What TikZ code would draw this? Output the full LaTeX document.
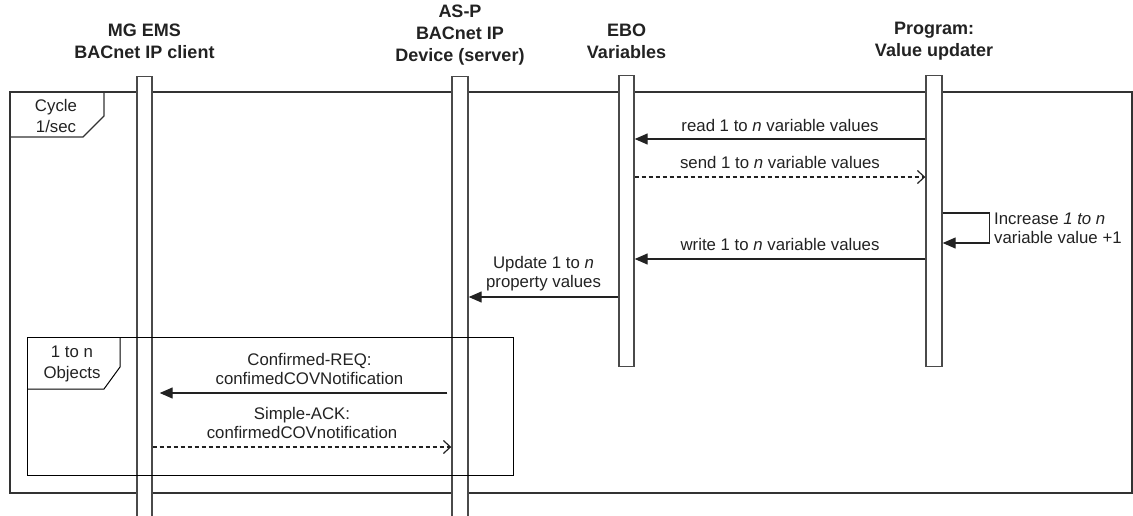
\documentclass[tikz,border=0pt]{standalone}
\usepackage{fontspec}
\setmainfont{Liberation Sans}
\usetikzlibrary{arrows.meta,calc}
\definecolor{ink}{HTML}{222222}
\definecolor{barline}{HTML}{4A4A4A}
\definecolor{frameink}{HTML}{333333}
\begin{document}
\begin{tikzpicture}[x=1pt,y=-1pt,
  lbl/.style={font=\fontsize{16.8}{19}\selectfont, align=center, text=ink, inner sep=0pt},
  hdr/.style={font=\fontsize{18}{22}\selectfont\bfseries, align=center, text=ink, inner sep=0pt},
  lifebar/.style={draw=barline, line width=1.4pt, fill=white, minimum width=15pt, inner sep=0pt, anchor=north},
  outerframe/.style={draw=frameink, line width=1.3pt},
  innerframe/.style={draw=black, line width=1pt},
  msg/.style={draw=ink, line width=1.3pt, -{Triangle[length=13pt,width=11pt]}},
  reply/.style={draw=ink, line width=1.2pt, dash pattern=on 4pt off 3pt, -{Straight Barb[length=7pt,width=13pt]}},
]
\path[use as bounding box] (0,0) rectangle (1133,515);

% participant headings
\node[hdr] (hA) at (144.5,41) {MG EMS\\BACnet IP client};
\node[hdr] (hB) at (460,35.5) {AS-P\\BACnet IP\\Device (server)};
\node[hdr] (hC) at (626.5,41) {EBO\\Variables};
\node[hdr] (hD) at (934,41) {Program:\\Value updater};

% loop frame: Cycle 1/sec
\draw[outerframe] (10,92) rectangle (1132,493);
\draw[outerframe] (10,137) -- (83,137) -- (104,116) -- (104,92);
\node[lbl, font=\fontsize{16.8}{21}\selectfont] (cycle) at (56,115.5) {Cycle\\1/sec};

% lifelines
\node[lifebar, minimum height=444pt] (barA) at (144.5,76) {};
\node[lifebar, minimum height=444pt, minimum width=16pt] (barB) at (460,76) {};
\node[lifebar, minimum height=291pt] (barC) at (626.5,75) {};
\node[lifebar, minimum height=291pt, minimum width=16pt] (barD) at (934,75) {};

% inner loop frame: 1 to n Objects
\draw[innerframe] (27,337) rectangle (513,475);
\draw[innerframe] (27,389) -- (104,389) -- (120,367) -- (120,337);
\node[lbl, font=\fontsize{16.8}{21}\selectfont] (objs) at (72,364) {1 to n\\Objects};

% messages
\draw[msg] (barD.west |- 0,139) -- (barC.east |- 0,139)
  node[lbl, midway, yshift=14pt] {read 1 to \textit{n} variable values};
\draw[reply] (barC.east |- 0,177) -- (barD.west |- 0,177)
  node[lbl, midway, yshift=15pt] {send 1 to \textit{n} variable values};
\draw[msg] (barD.east |- 0,213) -- ++(47,0) |- (barD.east |- 0,243);
\node[lbl, anchor=west, align=left] (incr) at (994,228.5) {Increase \textit{1 to n}\\variable value +1};
\draw[msg] (barD.west |- 0,259) -- (barC.east |- 0,259)
  node[lbl, midway, yshift=15pt] {write 1 to \textit{n} variable values};
\draw[msg] (barC.west |- 0,297) -- (barB.east |- 0,297)
  node[lbl, midway, yshift=23.5pt] {Update 1 to \textit{n}\\property values};
\draw[msg] ($(barB.west |- 0,393)+(-4,0)$) -- ($(barA.east |- 0,393)+(7,0)$)
  node[lbl, midway, xshift=6pt, yshift=24pt] {Confirmed-REQ:\\confimedCOVNotification};
\draw[reply] (barA.east |- 0,447) -- (barB.west |- 0,447)
  node[lbl, midway, yshift=24pt] {Simple-ACK:\\confirmedCOVnotification};
\end{tikzpicture}
\end{document}
